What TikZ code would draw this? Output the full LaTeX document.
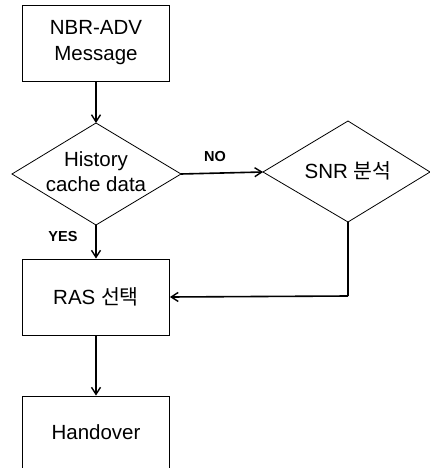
\documentclass[tikz,border=0pt]{standalone}
\usepackage{fontspec}
\setmainfont{Liberation Sans}
\newfontfamily\kr{Noto Sans CJK KR}
\usetikzlibrary{arrows.meta}
\begin{document}
\begin{tikzpicture}[x=1pt,y=-1pt,
  box/.style={draw,line width=0.9pt,minimum width=147pt,minimum height=76pt,inner sep=0pt,align=center,font=\fontsize{20.5}{26}\selectfont},
  dtext/.style={align=center,inner sep=0pt,font=\fontsize{20.5}{25}\selectfont},
  lbl/.style={inner sep=0pt,font=\fontsize{14.5}{16}\selectfont\bfseries},
  dia/.style={line width=0.8pt},
  conn/.style={line width=1.6pt,-{Straight Barb[length=7pt,width=9pt,line width=1.4pt]}},
  plain/.style={line width=1.6pt}]
\useasboundingbox (0,0) rectangle (430,468);
\node[box] (msg) at (96,43) {NBR-ADV\\Message};
% diamond 1
\coordinate (hT) at (96,123);
\coordinate (hL) at (12,174);
\coordinate (hR) at (181,174);
\coordinate (hB) at (96,225);
\draw[dia] (hT) -- (hR) -- (hB) -- (hL) -- cycle;
\node[dtext] (hist) at (96,172) {History\\cache data};
% diamond 2
\coordinate (sT) at (348,121);
\coordinate (sL) at (263,172);
\coordinate (sR) at (430,172);
\coordinate (sB) at (348,222);
\draw[dia] (sT) -- (sR) -- (sB) -- (sL) -- cycle;
\node[dtext] (snr) at (348,171) {SNR {\kr 분석}};
\node[box] (ras) at (96,297) {RAS {\kr 선택}};
\node[box,minimum height=72pt] (ho) at (96,432) {Handover};
\coordinate (corner) at (348,296);
% connectors
\draw[conn] (msg.south) -- (hT);
\draw[conn] (hR) -- (sL);
\draw[conn] (hB) -- (ras.north);
\draw[plain] (sB) -- (corner);
\draw[conn] (corner) -- (ras.east);
\draw[conn] (ras.south) -- (ho.north);
\node[lbl] (no) at (215,157) {NO};
\node[lbl] (yes) at (63,237) {YES};
\end{tikzpicture}
\end{document}
